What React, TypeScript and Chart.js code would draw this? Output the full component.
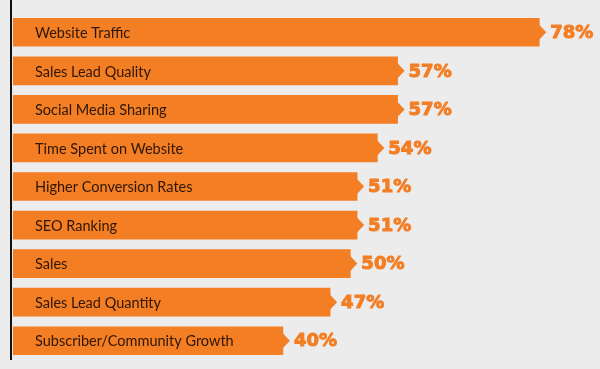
import React, { useEffect, useRef } from "react";
import { Chart, registerables } from "chart.js";

Chart.register(...registerables);

const categories = [
  "Website Traffic",
  "Sales Lead Quality",
  "Social Media Sharing",
  "Time Spent on Website",
  "Higher Conversion Rates",
  "SEO Ranking",
  "Sales",
  "Sales Lead Quantity",
  "Subscriber/Community Growth",
];
const values = [78, 57, 57, 54, 51, 51, 50, 47, 40];

const ORANGE = "#F37E24";
const BG = "#ECECEC";

const barDecor = {
  id: "barDecor",
  beforeDraw(chart: any) {
    const { ctx, width, height } = chart;
    ctx.save();
    ctx.fillStyle = BG;
    ctx.fillRect(0, 0, width, height);
    ctx.restore();
  },
  afterDatasetsDraw(chart: any) {
    const { ctx, chartArea } = chart;
    const meta = chart.getDatasetMeta(0);
    ctx.save();
    // axis line
    ctx.strokeStyle = "#111";
    ctx.lineWidth = 2;
    ctx.beginPath();
    ctx.moveTo(chartArea.left - 2, 0);
    ctx.lineTo(chartArea.left - 2, chartArea.bottom);
    ctx.stroke();
    meta.data.forEach((bar: any, i: number) => {
      const x = bar.x;
      const y = bar.y;
      // arrow tip
      ctx.fillStyle = ORANGE;
      ctx.beginPath();
      ctx.moveTo(x - 1, y - 8.5);
      ctx.lineTo(x + 7, y);
      ctx.lineTo(x - 1, y + 8.5);
      ctx.closePath();
      ctx.fill();
      // category label
      ctx.fillStyle = "#2e1608";
      ctx.font = "14.5px Lato";
      ctx.textAlign = "left";
      ctx.textBaseline = "middle";
      ctx.fillText(categories[i], chartArea.left + 22, y + 1);
      // value label
      ctx.fillStyle = ORANGE;
      ctx.strokeStyle = ORANGE;
      ctx.lineWidth = 1;
      ctx.lineJoin = "round";
      ctx.font = "bold 18px 'DejaVu Sans'";
      ctx.fillText(values[i] + "%", x + 11, y + 1);
      ctx.strokeText(values[i] + "%", x + 11, y + 1);
    });
    ctx.restore();
  },
};

export default function App() {
  const ref = useRef<HTMLCanvasElement>(null);
  useEffect(() => {
    if (!ref.current) return;
    const chart = new Chart(ref.current, {
      type: "bar",
      data: {
        labels: categories,
        datasets: [
          {
            data: values,
            backgroundColor: ORANGE,
            barThickness: 28,
            borderWidth: 0,
          },
        ],
      },
      options: {
        indexAxis: "y",
        animation: false,
        responsive: false,
        layout: { padding: { left: 13, top: 13, bottom: 9, right: 0 } },
        plugins: { legend: { display: false }, tooltip: { enabled: false } },
        scales: {
          x: { display: false, min: 0, max: 87 },
          y: { display: false },
        },
      },
      plugins: [barDecor],
    });
    return () => chart.destroy();
  }, []);
  return (
    <div style={{ position: "fixed", left: 0, top: 0, width: 600, height: 369 }}>
      <canvas ref={ref} width={600} height={369} />
    </div>
  );
}
